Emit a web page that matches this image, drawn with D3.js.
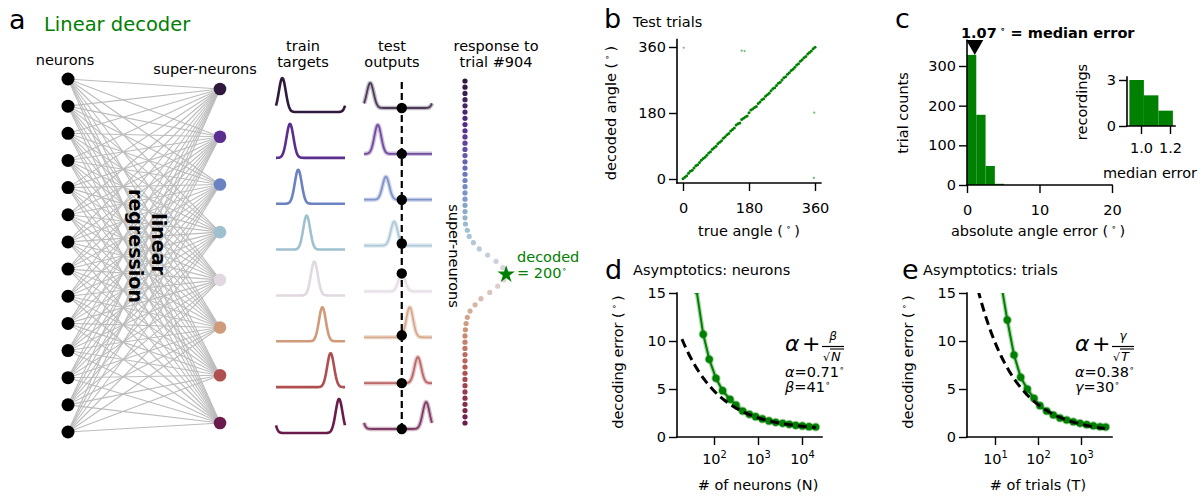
<!DOCTYPE html>
<html><head><meta charset="utf-8">
<script src="https://cdn.jsdelivr.net/npm/d3@7"></script>
<style>
body{margin:0;background:#fff;}
svg text{font-family:"DejaVu Sans",sans-serif;}
</style></head><body>
<svg id="fig" width="1201" height="497"></svg>
<script>
// ---------------- data ----------------
const superNeuronColors = ["#2f1a3d","#5a2d8e","#6a82c1","#9ec0cf","#e1d8e1","#cf9b7a","#b04f50","#6a1b4c"];
const trainPeaks = [33,73,116,160,200,242,285,329];
const tuningWidth = 18;
const testAmps = [25,29,23,24,18,30,26,27];
const trialNumber = 904;
const decodedAngle = 200;
const responses = [0,0,0,0,0,0,0,0,0,0,0,0,0,0,0,0,0,0,0,0,0,0,0,0.01,0.055,0.1,0.2,0.34,0.54,0.74,0.9,1.0,0.93,0.78,0.59,0.38,0.24,0.12,0.055,0.025,0.01,0,0,0,0,0,0,0,0,0,0,0,0,0,0,0];
const trueAngles = [0,5,10,15,20,25,30,35,40,45,50,55,60,65,70,75,80,85,90,95,100,105,110,115,120,125,130,135,140,145,150,155,160,165,170,175,180,185,190,195,200,205,210,215,220,225,230,235,240,245,250,255,260,265,270,275,280,285,290,295,300,305,310,315,320,325,330,335,340,345,350,355,360];
const decodedAngles = [1,5,9,16,21,24,30,36,39,45,51,56,59,65,71,74,81,85,89,96,100,104,111,115,121,124,131,135,139,147,151,153,162,166,169,172,181,188,191,195,198,206,210,216,219,226,230,234,241,246,249,255,261,264,270,276,279,286,290,296,299,305,311,314,321,325,331,334,341,345,349,355,359];
const outlierTrue = [2,160,168,358,357];
const outlierDecoded = [358,350,349,181,3];
const errBinStarts = [0,1.28,2.56,3.84];
const errCounts = [328,177,48,3];
const errBinWidth = 1.28;
const medianError = 1.07;
const medBinStarts = [0.92,1.02,1.12];
const medCounts = [3,2,1];
const medBinWidth = 0.1;
const neuronsN = [40,57,78,111,157,231,316,449,636,885,1253,1778,2522,3631,5130,7195,10190,14430,20460];
const neuronsErr = [15.3,10.7,8.09,6.11,4.83,3.92,3.33,2.71,2.36,2.12,1.88,1.67,1.53,1.42,1.32,1.22,1.15,1.08,1.04];
const fitNeurons = [0.71,41];       // alpha, beta
const fitNeuronsRange = [18.7,20460];
const trialsT = [13.6,19.3,27.7,39.6,56.4,80.7,111,159,227,325,465,663,948,1358,1932,2767,3750];
const trialsErr = [16.2,12.19,8.54,6.22,4.99,4.03,3.26,2.71,2.29,1.98,1.77,1.59,1.42,1.28,1.17,1.07,1.04];
const fitTrials = [0.38,30];        // alpha, gamma
const fitTrialsRange = [4.0,3750];
const ticksB = [0,180,360];
const ticksCy = [0,100,200,300];
const ticksCx = [0,10,20];
const ticksInsetY = [0,3];
const ticksInsetX = [1.0,1.2];
const ticksErr = [0,5,10,15];
const ticksN = [100,1000,10000];
const ticksT = [10,100,1000];

// ---------------- helpers ----------------
const svg = d3.select("#fig");
svg.append("rect").attr("width",1201).attr("height",497).attr("fill","#fff");
const FS = 14.5;
const GREEN = "#008000";

function rich(parent, x, y, parts, opts={}) {
  const size = opts.size || FS;
  const t = parent.append("text").attr("x",x).attr("y",y).attr("font-size",size)
    .attr("text-anchor",opts.anchor||"start").attr("fill",opts.fill||"#000");
  if (opts.weight) t.attr("font-weight",opts.weight);
  if (opts.transform) t.attr("transform",opts.transform);
  let shift = 0;
  parts.forEach(p => {
    const [s,kind] = Array.isArray(p) ? p : [p,"n"];
    const ts = t.append("tspan").text(s);
    let target = 0;
    if (kind === "sup") { ts.attr("font-size",size*0.62); target = -size*0.4; }
    if (kind === "it") ts.attr("font-style","italic");
    if (target - shift !== 0) ts.attr("dy",target-shift);
    shift = target;
  });
  return t;
}
const DEG = [" \u2218 ","sup"];
const DEGT = ["\u2218","sup"];

function styleAxis(g) {
  g.select(".domain").remove();
  g.attr("font-family","DejaVu Sans").attr("font-size",FS);
  g.selectAll(".tick line").attr("stroke","#000").attr("stroke-width",1.4);
  g.selectAll(".tick text").attr("fill","#000");
}
function spine(x1,y1,x2,y2){
  svg.append("line").attr("x1",x1).attr("y1",y1).attr("x2",x2).attr("y2",y2)
    .attr("stroke","#000").attr("stroke-width",1.6).attr("stroke-linecap","square");
}

// ---------------- panel a ----------------
rich(svg,9,29,["a"],{size:27});
rich(svg,44,31,["Linear decoder"],{size:19.5,fill:GREEN});
rich(svg,65,65,["neurons"],{anchor:"middle"});
rich(svg,205,74,["super-neurons"],{anchor:"middle"});

const neuronIdx = d3.range(14);
const superIdx = d3.range(8);
const yNeuron = d3.scalePoint().domain(neuronIdx).range([79,432]);
const ySuper = d3.scalePoint().domain(superIdx).range([89,423]);
const xNeuron = 68, xSuper = 220;
const links = neuronIdx.flatMap(i => superIdx.map(j => [i,j]));
svg.append("g").selectAll("line").data(links).join("line")
  .attr("x1",xNeuron).attr("y1",d=>yNeuron(d[0]))
  .attr("x2",xSuper).attr("y2",d=>ySuper(d[1]))
  .attr("stroke","#bcbcbc").attr("stroke-width",1.1);
svg.append("g").selectAll("circle").data(neuronIdx).join("circle")
  .attr("cx",xNeuron).attr("cy",d=>yNeuron(d)).attr("r",6.5).attr("fill","#000");
svg.append("g").selectAll("circle").data(superIdx).join("circle")
  .attr("cx",xSuper).attr("cy",d=>ySuper(d)).attr("r",6.3).attr("fill",d=>superNeuronColors[d]);
rich(svg,0,0,["linear"],{size:19,weight:"bold",anchor:"middle",transform:"translate(152,244) rotate(90)"});
rich(svg,0,0,["regression"],{size:19,weight:"bold",anchor:"middle",transform:"translate(129,246) rotate(90)"});

function tuning(theta, mu){ let d=Math.abs(theta-mu)%360; if(d>180) d=360-d; return Math.exp(-d*d/(2*tuningWidth*tuningWidth)); }
const thetaGrid = d3.range(0,360.01,1.5);
const xTrain = d3.scaleLinear().domain([0,360]).range([276,345]);
const xTest = d3.scaleLinear().domain([0,360]).range([364,432]);
const rowBase = d3.scalePoint().domain(superIdx).range([112,433]);

rich(svg,303,51,["train"],{anchor:"middle"});
rich(svg,303,66.5,["targets"],{anchor:"middle"});
rich(svg,392,51,["test"],{anchor:"middle"});
rich(svg,392,66.5,["outputs"],{anchor:"middle"});
rich(svg,496,51,["response to"],{anchor:"middle"});
rich(svg,496,66.5,["trial #"+trialNumber],{anchor:"middle"});

superIdx.forEach(j => {
  const trainLine = d3.line().x(t=>xTrain(t)).y(t=>rowBase(j)-34*tuning(t,trainPeaks[j])).curve(d3.curveBasis);
  svg.append("path").attr("d",trainLine(thetaGrid)).attr("fill","none")
    .attr("stroke",superNeuronColors[j]).attr("stroke-width",2.6);
  const testLine = d3.line().x(t=>xTest(t)).y(t=>rowBase(j)-4-testAmps[j]*tuning(t,trainPeaks[j])).curve(d3.curveBasis);
  svg.append("path").attr("d",testLine(thetaGrid)).attr("fill","none")
    .attr("stroke",superNeuronColors[j]).attr("stroke-width",4.5).attr("stroke-opacity",0.3);
  svg.append("path").attr("d",testLine(thetaGrid)).attr("fill","none")
    .attr("stroke",superNeuronColors[j]).attr("stroke-width",1.8).attr("stroke-opacity",0.8);
});
svg.append("line").attr("x1",xTest(decodedAngle)).attr("x2",xTest(decodedAngle))
  .attr("y1",82).attr("y2",rowBase(7)-4).attr("stroke","#000").attr("stroke-width",2.2).attr("stroke-dasharray","7,4");
svg.append("g").selectAll("circle").data(superIdx).join("circle")
  .attr("cx",xTest(decodedAngle)).attr("cy",j=>rowBase(j)-4-testAmps[j]*tuning(decodedAngle,trainPeaks[j]))
  .attr("r",5.2).attr("fill","#000");

// response dots
const respIdx = d3.range(responses.length);
const yResp = d3.scalePoint().domain(respIdx).range([81,423]);
const xResp = d3.scaleLinear().domain([0,1]).range([465,507]);
const respColor = d3.scaleLinear().domain(superIdx.map(k=>k/7*(responses.length-1))).range(superNeuronColors);
svg.append("g").selectAll("circle").data(respIdx).join("circle")
  .attr("cx",i=>xResp(responses[i])).attr("cy",i=>yResp(i)).attr("r",2.6).attr("fill",i=>respColor(i));
const angleToResp = d3.scaleLinear().domain([0,360]).range([yResp(0), yResp(0)+responses.length*yResp.step()]);
svg.append("path").attr("d",d3.symbol(d3.symbolStar,95)())
  .attr("transform",`translate(${xResp(0.98)},${angleToResp(decodedAngle)})`).attr("fill",GREEN);
rich(svg,517,262,["decoded"],{fill:GREEN});
rich(svg,517,278,["= "+decodedAngle,DEGT],{fill:GREEN});
rich(svg,0,0,["super-neurons"],{anchor:"middle",transform:"translate(449,256) rotate(90)"});

// ---------------- panel b ----------------
rich(svg,604,28,["b"],{size:27});
rich(svg,633,27,["Test trials"]);
const xB = d3.scaleLinear().domain([0,360]).range([683,815]);
const yB = d3.scaleLinear().domain([0,360]).range([179,47]);
spine(677,yB(380),677,183);
spine(677,183,xB(376),183);
svg.append("g").attr("transform","translate(0,183)")
  .call(d3.axisBottom(xB).tickValues(ticksB).tickSize(8).tickPadding(12)).call(styleAxis);
svg.append("g").attr("transform","translate(677,0)")
  .call(d3.axisLeft(yB).tickValues(ticksB).tickSize(8).tickPadding(3)).call(styleAxis);
svg.append("g").selectAll("circle").data(trueAngles).join("circle")
  .attr("cx",(d,i)=>xB(trueAngles[i])).attr("cy",(d,i)=>yB(decodedAngles[i])).attr("r",1.5).attr("fill",GREEN);
svg.append("g").selectAll("circle").data(outlierTrue).join("circle")
  .attr("cx",(d,i)=>xB(outlierTrue[i])).attr("cy",(d,i)=>yB(outlierDecoded[i])).attr("r",1.1).attr("fill",GREEN).attr("opacity",0.55);
rich(svg,749,236,["true angle (",DEG,")"],{anchor:"middle"});
rich(svg,0,0,["decoded angle (",DEG,")"],{anchor:"middle",transform:"translate(616,113) rotate(-90)"});

// ---------------- panel c ----------------
rich(svg,895,28,["c"],{size:27});
const xC = d3.scaleLinear().domain([0,20]).range([967,1112]);
const yC = d3.scaleLinear().domain([0,300]).range([185,66]);
svg.append("g").selectAll("rect").data(errBinStarts).join("rect")
  .attr("x",(d,i)=>xC(errBinStarts[i])).attr("width",(d,i)=>xC(errBinStarts[i]+errBinWidth)-xC(errBinStarts[i]))
  .attr("y",(d,i)=>yC(errCounts[i])).attr("height",(d,i)=>yC(0)-yC(errCounts[i])).attr("fill",GREEN);
spine(967,yC(365),967,185);
spine(967,185,xC(20),185);
svg.append("g").attr("transform","translate(0,185)")
  .call(d3.axisBottom(xC).tickValues(ticksCx).tickSize(8).tickPadding(12)).call(styleAxis);
svg.append("g").attr("transform","translate(967,0)")
  .call(d3.axisLeft(yC).tickValues(ticksCy).tickSize(8).tickPadding(3)).call(styleAxis);
{
  const mx = xC(medianError);
  svg.append("path").attr("d",`M${mx-8.5},40L${mx+8.5},40L${mx},55Z`).attr("fill","#000");
}
rich(svg,961,38,[medianError.toFixed(2),[" \u2218","sup"]," = median error"],{weight:"bold"});
rich(svg,1038,236,["absolute angle error (",DEG,")"],{anchor:"middle"});
rich(svg,0,0,["trial counts"],{anchor:"middle",transform:"translate(908,113) rotate(-90)"});
// inset
const xI = d3.scaleLinear().domain([1.0,1.2]).range([1141,1170]);
const yI = d3.scaleLinear().domain([0,3]).range([126,80]);
svg.append("g").selectAll("rect").data(medBinStarts).join("rect")
  .attr("x",(d,i)=>xI(medBinStarts[i])).attr("width",(d,i)=>xI(medBinStarts[i]+medBinWidth)-xI(medBinStarts[i]))
  .attr("y",(d,i)=>yI(medCounts[i])).attr("height",(d,i)=>yI(0)-yI(medCounts[i])).attr("fill",GREEN);
spine(1127,yI(3.2),1127,126);
spine(1127,126,1175,126);
svg.append("g").attr("transform","translate(0,126)")
  .call(d3.axisBottom(xI).tickValues(ticksInsetX).tickFormat(d3.format(".1f")).tickSize(8).tickPadding(9)).call(styleAxis);
svg.append("g").attr("transform","translate(1127,0)")
  .call(d3.axisLeft(yI).tickValues(ticksInsetY).tickFormat(d3.format("d")).tickSize(8).tickPadding(3)).call(styleAxis);
rich(svg,0,0,["recordings"],{anchor:"middle",transform:"translate(1087,102) rotate(-90)"});
rich(svg,1150,178,["median error"],{anchor:"middle"});

// ---------------- panels d & e ----------------
function asymPanel(o) {
  rich(svg,o.letterX,279,[o.letter],{size:27});
  rich(svg,o.titleX,275,[o.title]);
  const x = d3.scaleLog().domain(o.dom).range(o.rng);
  const y = d3.scaleLinear().domain([0,15]).range([437,293]);
  const clipId = "clip"+o.letter;
  svg.append("clipPath").attr("id",clipId).append("rect")
    .attr("x",o.spineX-5).attr("y",y(15)).attr("width",o.spineEnd-o.spineX+15).attr("height",160);
  spine(o.spineX,y(15),o.spineX,437);
  spine(o.spineX,437,o.spineEnd,437);
  const gx = svg.append("g").attr("transform","translate(0,437)")
    .call(d3.axisBottom(x).tickValues(o.ticks).tickSize(8).tickPadding(9).tickFormat(()=>"")).call(styleAxis);
  gx.selectAll(".tick text").each(function(d){
    const t = d3.select(this);
    t.append("tspan").text("10");
    t.append("tspan").attr("font-size",FS*0.68).attr("dy",-6).text(Math.round(Math.log10(d)));
  });
  svg.append("g").attr("transform",`translate(${o.spineX},0)`)
    .call(d3.axisLeft(y).tickValues(ticksErr).tickSize(8).tickPadding(3)).call(styleAxis);
  const plot = svg.append("g").attr("clip-path",`url(#${clipId})`);
  const lg = d3.range(Math.log10(o.fitRange[0]), Math.log10(o.fitRange[1])+0.001, 0.02).map(v=>10**v);
  const fitLine = d3.line().x(v=>x(v)).y(v=>y(o.fit[0]+o.fit[1]/Math.sqrt(v)));
  const dataLine = d3.line().x((d,i)=>x(o.xs[i])).y((d,i)=>y(o.ys[i]));
  plot.append("path").attr("d",dataLine(o.xs)).attr("fill","none").attr("stroke",GREEN).attr("stroke-width",4.5).attr("stroke-opacity",0.3);
  plot.append("path").attr("d",dataLine(o.xs)).attr("fill","none").attr("stroke",GREEN).attr("stroke-width",2);
  plot.append("g").selectAll("circle").data(o.xs).join("circle")
    .attr("cx",(d,i)=>x(o.xs[i])).attr("cy",(d,i)=>y(o.ys[i])).attr("r",3.6)
    .attr("fill",GREEN).attr("stroke",GREEN).attr("stroke-opacity",0.35).attr("stroke-width",2);
  plot.append("path").attr("d",fitLine(lg)).attr("fill","none").attr("stroke","#000")
    .attr("stroke-width",3).attr("stroke-dasharray","9,5");
  const fx = o.fx;
  rich(svg,fx,351,[["α","it"]],{size:22});
  rich(svg,fx+17,351,["+"],{size:22});
  svg.append("line").attr("x1",fx+37).attr("x2",fx+59).attr("y1",346.5).attr("y2",346.5).attr("stroke","#000").attr("stroke-width",1.2);
  svg.append("line").attr("x1",fx+45).attr("x2",fx+59).attr("y1",349).attr("y2",349).attr("stroke","#000").attr("stroke-width",1.1);
  rich(svg,fx+48,340,[[o.coef,"it"]],{size:12,anchor:"middle"});
  rich(svg,fx+38,361,["\u221A"],{size:11});
  rich(svg,fx+46,361,[[o.var,"it"]],{size:13});
  rich(svg,fx,377,[["α","it"],"="+o.fit[0],DEGT]);
  rich(svg,fx,392,[[o.coef,"it"],"="+o.fit[1],DEGT]);
  rich(svg,(o.rng[0]+o.rng[1])/2,490,[o.xlabel],{anchor:"middle"});
  rich(svg,0,0,["decoding error (",DEG,")"],{anchor:"middle",transform:`translate(${o.spineX-54},362) rotate(-90)`});
}
asymPanel({letter:"d",letterX:605,title:"Asymptotics: neurons",titleX:633,dom:[100,10000],rng:[714,802],
  spineX:677,spineEnd:822,ticks:ticksN,xs:neuronsN,ys:neuronsErr,fit:fitNeurons,fitRange:fitNeuronsRange,
  fx:785,coef:"β",var:"N",xlabel:"# of neurons (N)"});
asymPanel({letter:"e",letterX:902,title:"Asymptotics: trials",titleX:923,dom:[10,1000],rng:[995,1081],
  spineX:967,spineEnd:1112,ticks:ticksT,xs:trialsT,ys:trialsErr,fit:fitTrials,fitRange:fitTrialsRange,
  fx:1075,coef:"γ",var:"T",xlabel:"# of trials (T)"});
</script>
</body></html>
